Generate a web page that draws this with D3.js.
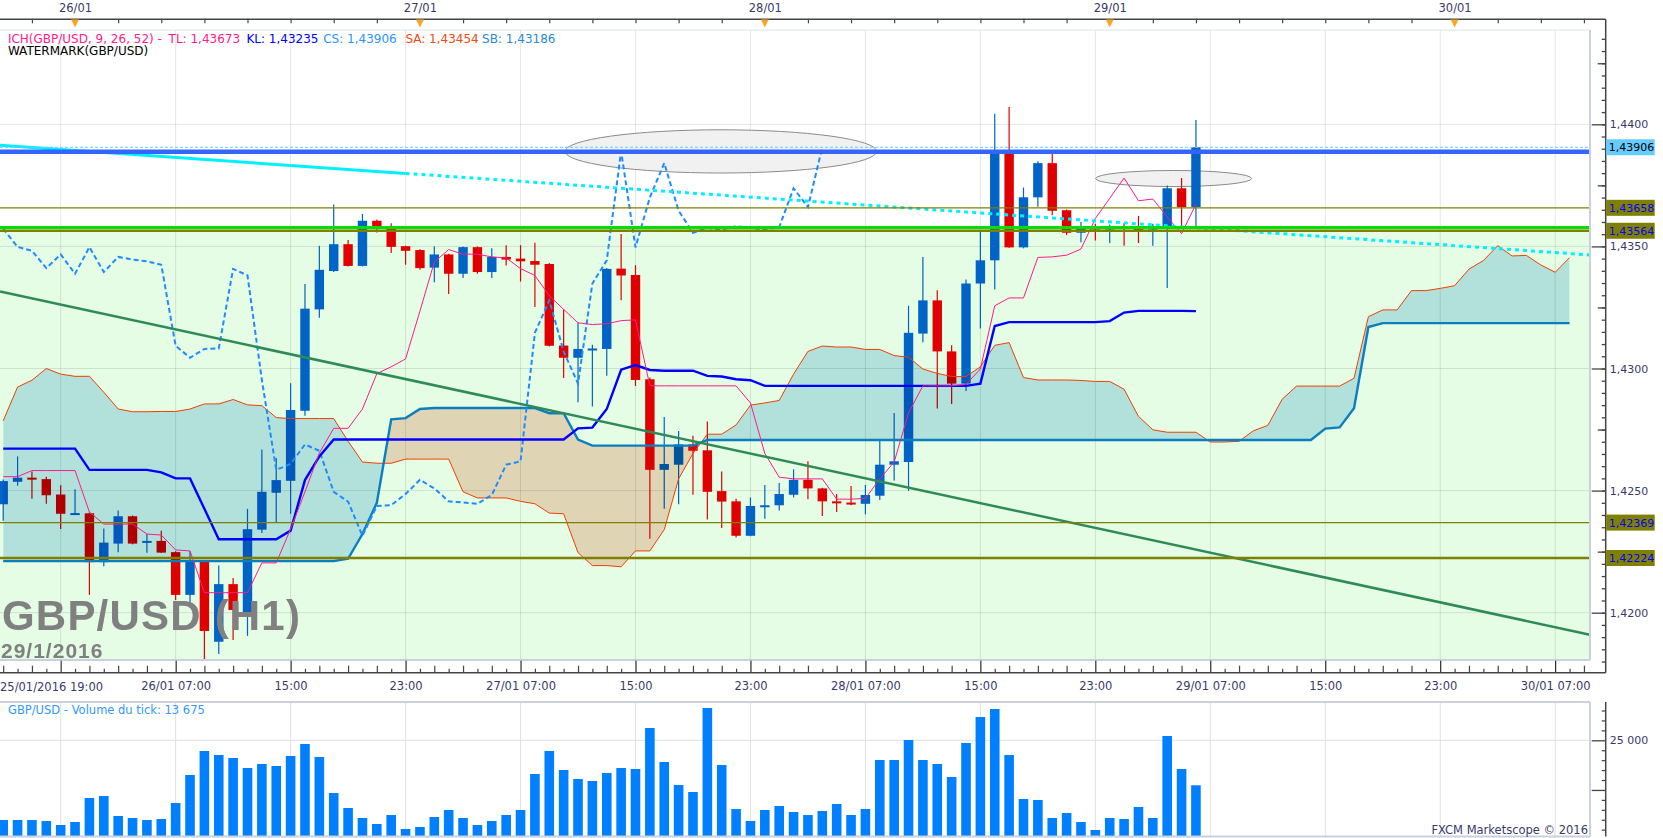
<!DOCTYPE html>
<html>
<head>
<meta charset="utf-8">
<script src="https://cdn.jsdelivr.net/npm/d3@7"></script>
<style>
  body { margin: 0; background: #fff; }
  svg { display: block; font-family: "DejaVu Sans", sans-serif; }
</style>
</head>
<body>
<script>
// GBP/USD H1 candles, one per hour starting 25/01/2016 19:00
let opens = [1.42444,1.42536,1.42553,1.42547,1.42484,1.42405,1.42407,1.42207,1.42283,1.42395,
  1.42286,1.42294,1.42248,1.42073,1.42211,1.41881,1.42117,1.41991,1.42340,1.42491,
  1.42540,1.42827,1.43242,1.43399,1.43509,1.43420,1.43605,1.43575,1.43501,1.43485,
  1.43413,1.43467,1.43388,1.43497,1.43395,1.43457,1.43450,1.43440,1.43428,1.43094,
  1.43044,1.43078,1.43080,1.43409,1.43383,1.42956,1.42585,1.42606,1.42689,1.42665,
  1.42498,1.42456,1.42315,1.42434,1.42440,1.42483,1.42544,1.42509,1.42456,1.42451,
  1.42446,1.42479,1.42606,1.42617,1.43143,1.43279,1.43070,1.42938,1.43348,1.43443,
  1.43890,1.43496,1.43701,1.43841,1.43648,1.43556,1.43579,1.43569,1.43583,1.43576,
  1.43569,1.43572,1.43738,1.43661];
let highs = [1.42545,1.42640,1.42578,1.42557,1.42522,1.42506,1.42410,1.42345,1.42419,1.42398,
  1.42322,1.42336,1.42252,1.42252,1.42215,1.42193,1.42142,1.42425,1.42668,1.42633,
  1.42940,1.43346,1.43503,1.43672,1.43526,1.43633,1.43610,1.43595,1.43503,1.43488,
  1.43501,1.43470,1.43500,1.43500,1.43492,1.43505,1.43505,1.43515,1.43432,1.43242,
  1.43187,1.43097,1.43412,1.43551,1.43423,1.42963,1.42801,1.42744,1.42725,1.42783,
  1.42578,1.42467,1.42472,1.42523,1.42531,1.42587,1.42620,1.42512,1.42486,1.42519,
  1.42523,1.42703,1.42818,1.43257,1.43457,1.43320,1.43095,1.43364,1.43565,1.44043,
  1.44071,1.43741,1.43849,1.43880,1.43651,1.43600,1.43593,1.43590,1.43596,1.43625,
  1.43593,1.43749,1.43780,1.44018];
let lows = [1.42377,1.42520,1.42467,1.42446,1.42343,1.42404,1.42073,1.42190,1.42248,1.42280,
  1.42246,1.42244,1.42052,1.42038,1.41807,1.41831,1.41888,1.41905,1.42326,1.42367,
  1.42405,1.42806,1.43208,1.43395,1.43418,1.43418,1.43557,1.43473,1.43425,1.43404,
  1.43353,1.43305,1.43371,1.43388,1.43371,1.43422,1.43356,1.43252,1.43090,1.42961,
  1.42862,1.42844,1.42970,1.43279,1.42928,1.42303,1.42426,1.42444,1.42483,1.42382,
  1.42347,1.42308,1.42313,1.42385,1.42419,1.42472,1.42465,1.42396,1.42412,1.42440,
  1.42403,1.42462,1.42541,1.42499,1.43108,1.42836,1.42855,1.42908,1.43164,1.43323,
  1.43494,1.43492,1.43662,1.43628,1.43547,1.43517,1.43524,1.43514,1.43503,1.43514,
  1.43503,1.43330,1.43572,1.43576];
let closes = [1.42539,1.42553,1.42546,1.42481,1.42405,1.42408,1.42207,1.42287,1.42395,1.42283,
  1.42294,1.42246,1.42073,1.42211,1.41925,1.42117,1.42011,1.42342,1.42495,1.42543,
  1.42830,1.43245,1.43404,1.43509,1.43420,1.43605,1.43572,1.43498,1.43482,1.43411,
  1.43467,1.43388,1.43497,1.43395,1.43457,1.43446,1.43439,1.43425,1.43093,1.43044,
  1.43080,1.43082,1.43408,1.43381,1.42953,1.42585,1.42609,1.42689,1.42663,1.42495,
  1.42455,1.42315,1.42437,1.42440,1.42486,1.42544,1.42509,1.42456,1.42451,1.42446,
  1.42482,1.42606,1.42620,1.43146,1.43279,1.43070,1.42938,1.43348,1.43443,1.43890,
  1.43496,1.43701,1.43841,1.43646,1.43556,1.43576,1.43569,1.43583,1.43576,1.43569,
  1.43579,1.43738,1.43661,1.43906];

// tick volume per candle
let volumes = [4935,4935,4935,4683,3676,4431,10473,10977,5941,5438,
  4935,5186,9214,16264,22306,21299,20544,18026,19033,18530,
  21047,24068,20795,11732,7956,5438,3927,6193,2669,3172,
  5690,7452,5438,3676,4683,6193,7452,16515,22306,17522,
  15257,14753,16767,18026,17774,28096,19537,13746,11984,33132,
  18781,7704,4683,7452,8459,6949,6193,7200,8963,6193,
  7704,20040,20040,25075,20040,19033,15760,24320,30866,32880,
  21299,10222,9970,5438,6697,4431,2417,5438,5186,8207,
  5438,26082,17774,13675];

// Ichimoku lines
let tenkan = [1.42557,1.42557,1.42582,1.42582,1.42582,1.42582,1.42412,1.42363,1.42363,1.42363,
  1.42322,1.42318,1.42257,1.42253,1.42082,1.42082,1.42082,1.42082,1.42204,1.42204,
  1.42343,1.42495,1.42654,1.42755,1.42755,1.42834,1.42979,1.43007,1.43039,1.43235,
  1.43436,1.43487,1.43468,1.43468,1.43457,1.43453,1.43409,1.43381,1.43298,1.43242,
  1.43187,1.43180,1.43183,1.43196,1.43199,1.42929,1.42929,1.42929,1.42929,1.42929,
  1.42929,1.42929,1.42859,1.42652,1.42555,1.42548,1.42548,1.42548,1.42465,1.42465,
  1.42468,1.42548,1.42617,1.42818,1.42929,1.42929,1.42929,1.42935,1.42998,1.43257,
  1.43289,1.43289,1.43455,1.43457,1.43464,1.43489,1.43614,1.43697,1.43780,1.43687,
  1.43694,1.43621,1.43552,1.43673];
let kijun = [1.42672,1.42672,1.42672,1.42672,1.42672,1.42672,1.42585,1.42585,1.42585,1.42585,
  1.42585,1.42575,1.42550,1.42550,1.42426,1.42301,1.42301,1.42301,1.42301,1.42301,
  1.42336,1.42543,1.42640,1.42709,1.42709,1.42709,1.42709,1.42709,1.42709,1.42709,
  1.42709,1.42709,1.42709,1.42709,1.42709,1.42709,1.42709,1.42709,1.42709,1.42709,
  1.42755,1.42758,1.42834,1.42995,1.43014,1.42994,1.42991,1.42991,1.42991,1.42970,
  1.42967,1.42956,1.42952,1.42929,1.42929,1.42929,1.42929,1.42929,1.42929,1.42929,
  1.42929,1.42929,1.42929,1.42929,1.42929,1.42929,1.42929,1.42929,1.42938,1.43174,
  1.43190,1.43190,1.43190,1.43190,1.43190,1.43190,1.43190,1.43194,1.43229,1.43236,
  1.43236,1.43236,1.43236,1.43235];
let senkouA = [1.42786,1.42924,1.42952,1.43000,1.42977,1.42968,1.42968,1.42903,1.42834,1.42823,
  1.42823,1.42824,1.42824,1.42834,1.42855,1.42855,1.42873,1.42851,1.42848,1.42799,
  1.42795,1.42795,1.42795,1.42795,1.42702,1.42617,1.42612,1.42612,1.42629,1.42629,
  1.42629,1.42629,1.42495,1.42470,1.42470,1.42470,1.42456,1.42446,1.42408,1.42405,
  1.42246,1.42193,1.42193,1.42188,1.42253,1.42253,1.42340,1.42548,1.42652,1.42731,
  1.42731,1.42769,1.42850,1.42859,1.42869,1.42977,1.43070,1.43092,1.43088,1.43088,
  1.43078,1.43078,1.43053,1.43046,1.42998,1.42980,1.42967,1.42967,1.43007,1.43095,
  1.43106,1.42963,1.42953,1.42953,1.42953,1.42951,1.42947,1.42947,1.42915,1.42804,
  1.42749,1.42739,1.42739,1.42739,1.42699,1.42699,1.42702,1.42745,1.42767,1.42874,
  1.42928,1.42928,1.42928,1.42928,1.42960,1.43212,1.43240,1.43240,1.43319,1.43319,
  1.43328,1.43339,1.43407,1.43442,1.43503,1.43461,1.43463,1.43424,1.43394,1.43454];
let senkouB = [1.42211,1.42211,1.42211,1.42211,1.42211,1.42211,1.42211,1.42211,1.42211,1.42211,
  1.42211,1.42211,1.42211,1.42211,1.42211,1.42211,1.42211,1.42211,1.42211,1.42211,
  1.42211,1.42211,1.42211,1.42211,1.42221,1.42322,1.42450,1.42792,1.42797,1.42834,
  1.42838,1.42838,1.42838,1.42838,1.42838,1.42838,1.42838,1.42838,1.42817,1.42817,
  1.42709,1.42684,1.42684,1.42684,1.42684,1.42684,1.42684,1.42684,1.42684,1.42707,
  1.42707,1.42707,1.42707,1.42707,1.42707,1.42707,1.42707,1.42707,1.42707,1.42707,
  1.42707,1.42707,1.42707,1.42707,1.42707,1.42707,1.42707,1.42707,1.42707,1.42707,
  1.42707,1.42707,1.42707,1.42707,1.42707,1.42707,1.42707,1.42707,1.42707,1.42707,
  1.42707,1.42707,1.42707,1.42707,1.42707,1.42707,1.42707,1.42707,1.42707,1.42707,
  1.42707,1.42707,1.42754,1.42759,1.42837,1.43170,1.43186,1.43186,1.43186,1.43186,
  1.43186,1.43186,1.43186,1.43186,1.43186,1.43186,1.43186,1.43186,1.43186,1.43186];
let chikouShift = 26;

// horizontal levels and drawn objects, [hour, price]
let levelPrices = [1.43906, 1.43888, 1.43658, 1.43577, 1.43564, 1.42369, 1.42224];
let labelledLevels = [1.43906, 1.43658, 1.43564, 1.42369, 1.42224];
let greenTrend = [[-0.22, 1.43315], [110.42, 1.41910]];
let cyanSolid = [[-0.22, 1.43914], [28, 1.43799]];
let cyanDotted = [[28, 1.43799], [110.42, 1.43465]];
let ellipses = [
  { h: 49.94, p: 1.43889, rh: 10.84, rp: 0.000885 },
  { h: 81.45, p: 1.43778, rh: 5.43, rp: 0.000328 }
];
let priceTicks = [1.4200, 1.4250, 1.4300, 1.4350, 1.4400];

let width = 1663, height = 838;
let plot = { left: 0, right: 1590, top: 30, bottom: 660 };
let vol = { top: 702, bottom: 836.5 };
let axisX = 1605.7;

const t0 = Date.UTC(2016, 0, 25, 19);
let hourTime = h => new Date(t0 + h * 3600e3);

let x = d3.scaleUtc().domain([hourTime(0), hourTime(108)]).range([3.2, 1555.2]);
let y = d3.scaleLinear().domain([1.42, 1.44]).range([612.7, 124.3]);
let vy = d3.scaleLinear().domain([0, 25000]).range([839.6, 740.3]);
let xh = h => x(hourTime(h));
let comma = v => d3.format('.5f')(v).replace('.', ',');

let svg = d3.select('body')
  .append('svg')
  .attr('width', width)
  .attr('height', height);

let defs = svg.append('defs');
defs.append('clipPath').attr('id', 'plotClip')
  .append('rect')
  .attr('x', plot.left).attr('y', plot.top)
  .attr('width', plot.right - plot.left).attr('height', plot.bottom - plot.top);
defs.append('clipPath').attr('id', 'volClip')
  .append('rect')
  .attr('x', plot.left).attr('y', vol.top)
  .attr('width', plot.right - plot.left).attr('height', vol.bottom - vol.top);

// SB based clips for the two cloud colours
let sbAbove = d3.area().x((d, i) => xh(i)).y0(d => y(d)).y1(plot.top);
let sbBelow = d3.area().x((d, i) => xh(i)).y0(d => y(d)).y1(plot.bottom);
defs.append('clipPath').attr('id', 'aboveSB').append('path').attr('d', sbAbove(senkouB));
defs.append('clipPath').attr('id', 'belowSB').append('path').attr('d', sbBelow(senkouB));

svg.append('rect').attr('width', width).attr('height', height).attr('fill', '#fff');

// main plot background: light green under the green level
let main = svg.append('g').attr('clip-path', 'url(#plotClip)');
main.append('rect')
  .attr('x', plot.left).attr('y', y(levelPrices[3]))
  .attr('width', plot.right).attr('height', plot.bottom - y(levelPrices[3]))
  .attr('fill', '#e5fce5');

// grid
let majorHours = d3.range(4, 110, 8);
main.selectAll('.vgrid')
  .data(majorHours)
  .enter()
  .append('line')
  .attr('x1', d => xh(d)).attr('x2', d => xh(d))
  .attr('y1', plot.top).attr('y2', plot.bottom)
  .attr('stroke', 'rgba(0,0,0,0.1)');
main.selectAll('.hgrid')
  .data(priceTicks)
  .enter()
  .append('line')
  .attr('x1', plot.left).attr('x2', plot.right)
  .attr('y1', d => y(d)).attr('y2', d => y(d))
  .attr('stroke', 'rgba(0,0,0,0.1)');

// ellipses
main.selectAll('.ell')
  .data(ellipses)
  .enter()
  .append('ellipse')
  .attr('cx', d => xh(d.h))
  .attr('cy', d => y(d.p))
  .attr('rx', d => xh(d.h + d.rh) - xh(d.h))
  .attr('ry', d => y(d.p - d.rp) - y(d.p))
  .attr('fill', '#f0f0f0')
  .attr('fill-opacity', 0.9)
  .attr('stroke', '#8a8a8a')
  .attr('stroke-width', 1);

// candles
let bodyW = 9.4;
let candles = main.selectAll('.candle')
  .data(closes)
  .enter()
  .append('g')
  .attr('fill', (d, i) => d >= opens[i] ? '#0063c6' : '#e00000')
  .attr('stroke', (d, i) => d >= opens[i] ? '#0063c6' : '#e00000');
candles.append('line')
  .attr('x1', (d, i) => xh(i)).attr('x2', (d, i) => xh(i))
  .attr('y1', (d, i) => y(highs[i])).attr('y2', (d, i) => y(lows[i]))
  .attr('stroke-width', 1.2);
candles.append('rect')
  .attr('stroke', 'none')
  .attr('x', (d, i) => xh(i) - bodyW / 2)
  .attr('width', bodyW)
  .attr('y', (d, i) => y(Math.max(d, opens[i])))
  .attr('height', (d, i) => Math.max(2, Math.abs(y(d) - y(opens[i]))));

// kumo cloud, blended over the candles
let cloudArea = d3.area()
  .x((d, i) => xh(i))
  .y0((d, i) => y(senkouB[i]))
  .y1(d => y(d));
let cloud = main.append('g').style('mix-blend-mode', 'multiply');
cloud.append('path').attr('d', cloudArea(senkouA))
  .attr('fill', '#c6e3f3').attr('clip-path', 'url(#aboveSB)');
cloud.append('path').attr('d', cloudArea(senkouA))
  .attr('fill', '#f9d7c8').attr('clip-path', 'url(#belowSB)');

// ichimoku lines
let line = d3.line().x((d, i) => xh(i)).y(d => y(d));
main.append('path').attr('d', line(senkouA))
  .attr('fill', 'none').attr('stroke', '#f04000').attr('stroke-width', 1);
main.append('path').attr('d', line(senkouB))
  .attr('fill', 'none').attr('stroke', '#0a7fc0').attr('stroke-width', 2.4);
main.append('path').attr('d', line(closes.slice(chikouShift)))
  .attr('fill', 'none').attr('stroke', '#1e8cff').attr('stroke-width', 2)
  .attr('stroke-dasharray', '5,3');
main.append('path').attr('d', line(kijun))
  .attr('fill', 'none').attr('stroke', '#0000ff').attr('stroke-width', 2.4);
main.append('path').attr('d', line(tenkan))
  .attr('fill', 'none').attr('stroke', '#ff1a8c').attr('stroke-width', 1);

// trend lines
let seg = d3.line().x(d => xh(d[0])).y(d => y(d[1]));
main.append('path').attr('d', seg(greenTrend))
  .attr('stroke', '#2e8b57').attr('stroke-width', 2.5);
main.append('path').attr('d', seg(cyanSolid))
  .attr('stroke', '#00f0ff').attr('stroke-width', 3);
main.append('path').attr('d', seg(cyanDotted))
  .attr('stroke', '#00f0ff').attr('stroke-width', 3).attr('stroke-dasharray', '4,4');

// horizontal levels
let levelStyle = [
  { c: '#66ccff', w: 1, dash: '3,2' },
  { c: '#3366ff', w: 4.5, dash: null },
  { c: '#808000', w: 1.2, dash: null },
  { c: '#00e000', w: 3, dash: null },
  { c: '#808000', w: 2.5, dash: null },
  { c: '#808000', w: 1.2, dash: null },
  { c: '#808000', w: 2.5, dash: null }
];
main.selectAll('.level')
  .data(levelPrices)
  .enter()
  .append('line')
  .attr('x1', plot.left).attr('x2', plot.right)
  .attr('y1', d => y(d)).attr('y2', d => y(d))
  .attr('stroke', (d, i) => levelStyle[i].c)
  .attr('stroke-width', (d, i) => levelStyle[i].w)
  .attr('stroke-dasharray', (d, i) => levelStyle[i].dash);

// watermark, symbol and date
main.append('text')
  .attr('x', 2).attr('y', 630)
  .style('font-family', '"Liberation Sans", Arial, sans-serif')
  .style('font-weight', 'bold').style('font-size', '42px')
  .style('letter-spacing', '1.2px')
  .attr('fill', '#808080')
  .text('GBP/USD (H1)');
main.append('text')
  .attr('x', 1).attr('y', 658)
  .style('font-family', '"Liberation Sans", Arial, sans-serif')
  .style('font-weight', 'bold').style('font-size', '21px')
  .style('letter-spacing', '1px')
  .attr('fill', '#808080')
  .text('29/1/2016');

// legend
let legend = [
  { t: 'ICH(GBP/USD, 9, 26, 52) -', x: 7.9, c: '#ff1a8c' },
  { t: 'TL: ' + comma(tenkan[tenkan.length - 1]), x: 168.6, c: '#ff1a8c' },
  { t: 'KL: ' + comma(kijun[kijun.length - 1]), x: 246.4, c: '#0000ff' },
  { t: 'CS: ' + comma(closes[closes.length - 1]), x: 323.2, c: '#2b95ff' },
  { t: 'SA: ' + comma(senkouA[senkouA.length - 1]), x: 405.4, c: '#f04a10' },
  { t: 'SB: ' + comma(senkouB[senkouB.length - 1]), x: 482.1, c: '#2a8ad0' }
];
svg.selectAll('.leg')
  .data(legend)
  .enter()
  .append('text')
  .attr('x', d => d.x).attr('y', 42.8)
  .attr('fill', d => d.c)
  .style('font-size', '12px')
  .text(d => d.t);
svg.append('text')
  .attr('x', 7.9).attr('y', 55)
  .attr('fill', '#000')
  .style('font-size', '12px')
  .text('WATERMARK(GBP/USD)');

// panel borders
let border = '#c9d1dc';
svg.append('line').attr('x1', 0).attr('x2', plot.right).attr('y1', plot.top).attr('y2', plot.top)
  .attr('stroke', '#dde3ea');
svg.append('line').attr('x1', plot.right).attr('x2', plot.right).attr('y1', plot.top).attr('y2', plot.bottom)
  .attr('stroke', border).attr('stroke-width', 2);
svg.append('line').attr('x1', 0).attr('x2', plot.right).attr('y1', plot.bottom).attr('y2', plot.bottom)
  .attr('stroke', border).attr('stroke-width', 2);

// right price axis
let priceAxis = svg.append('g')
  .attr('transform', `translate(${axisX},0)`)
  .call(d3.axisRight(y).tickValues(priceTicks).tickSize(-14).tickPadding(4)
    .tickFormat(d => d3.format('.4f')(d).replace('.', ',')));
priceAxis.select('.domain').remove();
let minorPrices = d3.range(1.4180, 1.4440, 0.0005).filter(p => y(p) > plot.top - 2 && y(p) < plot.bottom + 12);
svg.append('g')
  .attr('transform', `translate(${axisX},0)`)
  .call(d3.axisRight(y).tickValues(minorPrices)
    .tickSize(-4).tickFormat(''))
  .call(g => g.select('.domain').remove());
svg.append('g')
  .attr('transform', `translate(${axisX},0)`)
  .call(d3.axisRight(y).tickValues([1.4225, 1.4275, 1.4325, 1.4375, 1.4425]).tickSize(-8).tickFormat(''))
  .call(g => g.select('.domain').remove());
svg.append('line').attr('x1', axisX).attr('x2', axisX).attr('y1', 19.3).attr('y2', 672.7)
  .attr('stroke', '#444').attr('stroke-width', 1.5);
svg.selectAll('.tick line').attr('stroke', '#444').attr('stroke-width', 1.3);
priceAxis.selectAll('text')
  .style('font-family', '"DejaVu Sans", sans-serif').style('font-size', '11px')
  .attr('fill', '#3a3a6a');

// price label boxes
let boxes = svg.selectAll('.pbox')
  .data(labelledLevels)
  .enter()
  .append('g');
boxes.append('rect')
  .attr('x', axisX + 0.5).attr('y', d => y(d) - 8)
  .attr('width', 48.5).attr('height', 16)
  .attr('fill', (d, i) => i === 0 ? '#66ccff' : '#808000');
boxes.append('text')
  .attr('x', axisX + 3).attr('y', d => y(d)).attr('dy', '0.36em')
  .style('font-size', '11px')
  .attr('fill', (d, i) => i === 0 ? '#000' : '#0000ff')
  .text(d => comma(d));

// bottom time axis
let fmtTime = d => d.getUTCHours() === 7 ? d3.utcFormat('%d/%m %H:%M')(d) : d3.utcFormat('%H:%M')(d);
let labelHours = majorHours.filter(h => h >= 12);
let timeAxis = svg.append('g')
  .attr('transform', 'translate(0,672.7)')
  .call(d3.axisBottom(x).tickValues(labelHours.map(hourTime)).tickSize(-12).tickPadding(9).tickFormat(fmtTime));
timeAxis.select('.domain').remove();
timeAxis.selectAll('text')
  .style('font-family', '"DejaVu Sans", sans-serif').style('font-size', '11.5px')
  .attr('fill', '#3a3a6a');
svg.append('g')
  .attr('transform', 'translate(0,672.7)')
  .call(d3.axisBottom(x).tickValues(d3.range(0, 111).filter(h => h % 8 !== 4).map(hourTime))
    .tickSize(0).tickFormat(''))
  .call(g => g.select('.domain').remove())
  .selectAll('.tick line')
  .attr('y2', d => (Math.round((d - t0) / 3600e3) % 2 === 0) ? -7 : -4)
  .attr('stroke', '#444').attr('stroke-width', 1.2);
svg.append('g')
  .attr('transform', 'translate(0,672.7)')
  .call(d3.axisBottom(x).tickValues([hourTime(4)]).tickSize(-12).tickFormat(''))
  .call(g => g.select('.domain').remove())
  .selectAll('line').attr('stroke', '#444').attr('stroke-width', 1.3);
svg.append('text')
  .attr('x', 0).attr('y', 690.7)
  .style('font-size', '11.5px').attr('fill', '#3a3a6a')
  .text(d3.utcFormat('%d/%m/%Y %H:%M')(hourTime(0)));
svg.append('line').attr('x1', 0).attr('x2', axisX).attr('y1', 672.7).attr('y2', 672.7)
  .attr('stroke', '#444').attr('stroke-width', 1.5);

// top date axis
let midnights = d3.range(5, 110, 24);
let dateAxis = svg.append('g')
  .attr('transform', 'translate(0,19.3)')
  .call(d3.axisTop(x).tickValues(midnights.map(hourTime)).tickSize(0).tickPadding(7)
    .tickFormat(d3.utcFormat('%d/%m')));
dateAxis.select('.domain').remove();
dateAxis.selectAll('text')
  .style('font-family', '"DejaVu Sans", sans-serif').style('font-size', '11.5px')
  .attr('fill', '#3a3a6a');
svg.append('g')
  .attr('transform', 'translate(0,19.3)')
  .call(d3.axisBottom(x).tickValues(d3.range(2, 111, 3).map(hourTime)).tickSize(4).tickFormat(''))
  .call(g => g.select('.domain').remove())
  .selectAll('line').attr('stroke', '#444').attr('stroke-width', 1.2);
svg.append('line').attr('x1', 0).attr('x2', axisX).attr('y1', 19.3).attr('y2', 19.3)
  .attr('stroke', '#444').attr('stroke-width', 1.5);
svg.selectAll('.tri')
  .data(midnights)
  .enter()
  .append('path')
  .attr('d', d => `M${xh(d) - 4},19.5L${xh(d) + 4},19.5L${xh(d)},27.5Z`)
  .attr('fill', '#ffa526');

// volume panel
let vp = svg.append('g').attr('clip-path', 'url(#volClip)');
vp.selectAll('.vgrid')
  .data(majorHours)
  .enter()
  .append('line')
  .attr('x1', d => xh(d)).attr('x2', d => xh(d))
  .attr('y1', vol.top).attr('y2', vol.bottom)
  .attr('stroke', '#e0e0e0');
vp.append('line')
  .attr('x1', 0).attr('x2', plot.right)
  .attr('y1', vy(25000)).attr('y2', vy(25000))
  .attr('stroke', '#e0e0e0');
vp.selectAll('.vbar')
  .data(volumes)
  .enter()
  .append('rect')
  .attr('x', (d, i) => xh(i) - 4.8)
  .attr('width', 9.6)
  .attr('y', d => vy(d))
  .attr('height', d => vy(0) - vy(d))
  .attr('fill', '#0080ff');

svg.append('line').attr('x1', 0).attr('x2', plot.right).attr('y1', vol.top).attr('y2', vol.top)
  .attr('stroke', border).attr('stroke-width', 2);
svg.append('line').attr('x1', plot.right).attr('x2', plot.right).attr('y1', vol.top).attr('y2', vol.bottom)
  .attr('stroke', border).attr('stroke-width', 2);
svg.append('line').attr('x1', 0).attr('x2', plot.right).attr('y1', vol.bottom).attr('y2', vol.bottom)
  .attr('stroke', border).attr('stroke-width', 2);

let volAxis = svg.append('g')
  .attr('transform', `translate(${axisX},0)`)
  .call(d3.axisRight(vy).tickValues([25000]).tickSize(-14).tickPadding(4)
    .tickFormat(d => d3.format(',')(d).replace(',', ' ')));
volAxis.select('.domain').remove();
volAxis.selectAll('text')
  .style('font-family', '"DejaVu Sans", sans-serif').style('font-size', '11px')
  .attr('fill', '#3a3a6a');
volAxis.selectAll('line').attr('stroke', '#444').attr('stroke-width', 1.3);
svg.append('g')
  .attr('transform', `translate(${axisX},0)`)
  .call(d3.axisRight(vy).tickValues(d3.range(2500, 35000, 2500).filter(v => v % 12500 !== 0 && vy(v) > vol.top))
    .tickSize(-4).tickFormat(''))
  .call(g => g.select('.domain').remove())
  .selectAll('line').attr('stroke', '#444').attr('stroke-width', 1.2);
svg.append('g')
  .attr('transform', `translate(${axisX},0)`)
  .call(d3.axisRight(vy).tickValues([12500]).tickSize(-14).tickFormat(''))
  .call(g => g.select('.domain').remove())
  .selectAll('line').attr('stroke', '#444').attr('stroke-width', 1.3);
svg.append('line').attr('x1', axisX).attr('x2', axisX).attr('y1', vol.top).attr('y2', vol.bottom)
  .attr('stroke', '#444').attr('stroke-width', 1.5);

svg.append('text')
  .attr('x', 8).attr('y', 714.3)
  .style('font-size', '11.5px').attr('fill', '#3399ff')
  .text('GBP/USD - Volume du tick: ' + d3.format(',')(volumes[volumes.length - 1]).replace(',', ' '));
svg.append('text')
  .attr('x', 1588).attr('y', 834)
  .attr('text-anchor', 'end')
  .style('font-size', '11.5px').attr('fill', '#3a3a6a')
  .text('FXCM Marketscope © 2016');
</script>
</body>
</html>
